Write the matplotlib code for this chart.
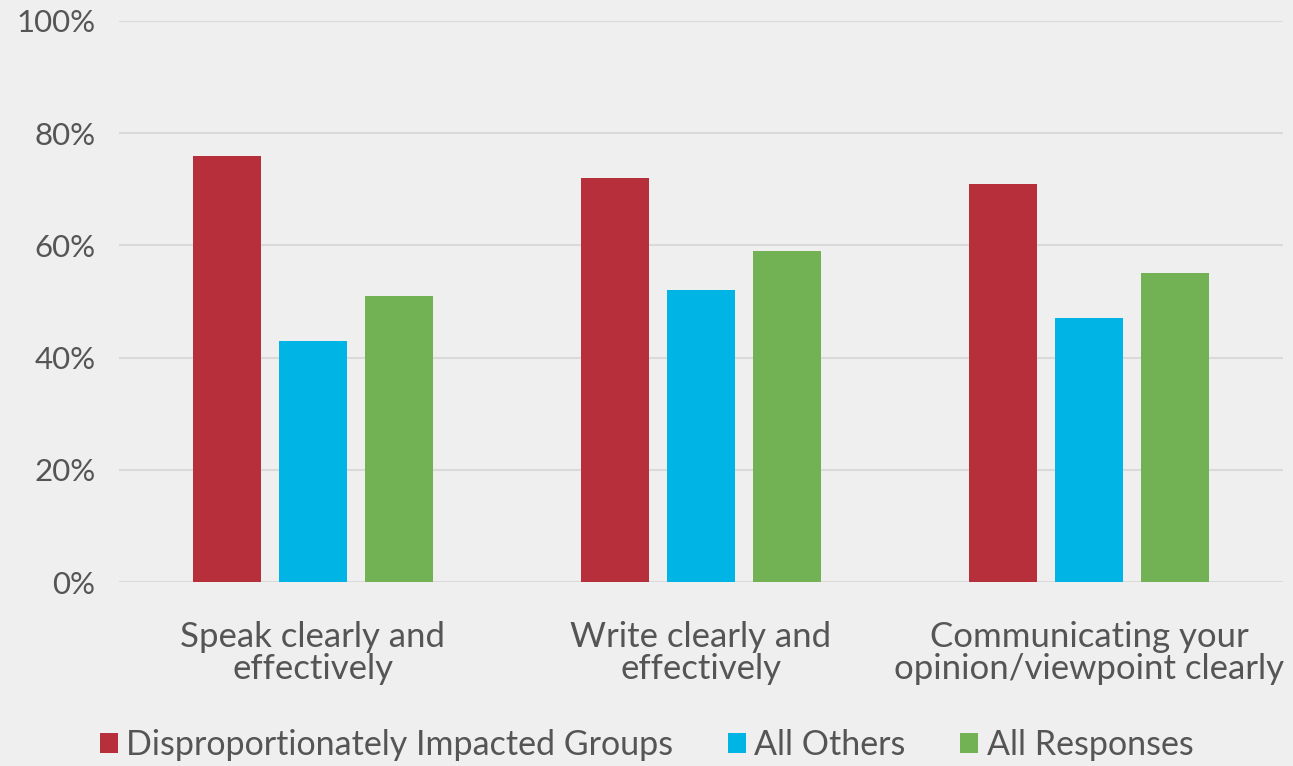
import matplotlib.pyplot as plt
import numpy as np

categories = ["Speak clearly and\neffectively",
              "Write clearly and\neffectively",
              "Communicating your\nopinion/viewpoint clearly"]
series_names = ["Disproportionately Impacted Groups", "All Others", "All Responses"]
impacted = [76, 72, 71]
others = [43, 52, 47]
all_resp = [51, 59, 55]
colors = ["#B72F3B", "#00B4E5", "#72B254"]

text_color = "#555555"
plt.rcParams['font.family'] = ['Lato', 'DejaVu Sans']

fig = plt.figure(figsize=(12.93, 7.66), dpi=100)
fig.patch.set_facecolor("#efefef")
ax = fig.add_axes([0.092, 0.2402, 0.9003, 0.7324])
ax.set_facecolor("none")

x = np.arange(len(categories))
offset = 0.2216
width = 0.175
for i, (vals, name) in enumerate(zip([impacted, others, all_resp], series_names)):
    ax.bar(x + (i - 1) * offset, vals, width, color=colors[i], label=name, zorder=3)

ax.set_xlim(-0.5, len(categories) - 0.5)
ax.set_ylim(0, 100)
ax.set_yticks(range(0, 101, 20))
ax.set_yticklabels([f"{v}%" for v in range(0, 101, 20)])
ax.set_xticks(x)
ax.set_xticklabels(categories, fontsize=25, color=text_color, linespacing=1.02)
ax.tick_params(axis='y', labelsize=22.5, labelcolor=text_color, length=0, pad=17)
ax.tick_params(axis='x', length=0, pad=28)
ax.grid(axis='y', color="#dadada", linewidth=1.5, zorder=0)
for s in ax.spines.values():
    s.set_visible(False)

leg = fig.legend(loc="center", bbox_to_anchor=(0.5, 1 - 745 / 766), ncol=3, frameon=False,
                 fontsize=24.5, handlelength=0.53, handleheight=0.53, handletextpad=0.25,
                 columnspacing=1.6)
for t in leg.get_texts():
    t.set_color(text_color)

fig.savefig("out.png", dpi=100, facecolor=fig.get_facecolor())
